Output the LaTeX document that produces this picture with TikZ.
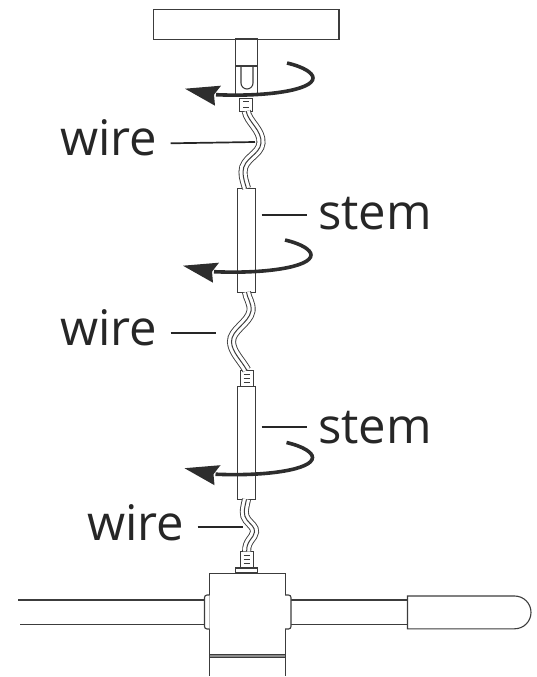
\documentclass[tikz,border=0pt]{standalone}
\usepackage{fontspec}
\setmainfont{Open Sans}
\usetikzlibrary{calc}
\definecolor{linegray}{RGB}{60,60,60}
\definecolor{arrowgray}{RGB}{45,45,45}
\begin{document}
\begin{tikzpicture}[
  x=1pt,y=-1pt,
  part/.style={draw=linegray,line width=1.1pt,fill=white,inner sep=0pt,outer sep=0pt},
  stembox/.style={part,minimum width=17.6pt,minimum height=#1},
  conbox/.style={part,line width=.9pt,fill=white,minimum width=13.2pt,minimum height=#1},
  tag/.style={font=\fontsize{49}{49}\selectfont,text=black!85,anchor=base west,inner sep=0pt},
  leader/.style={draw=black!85,line width=1.7pt},
  pipe/.style={draw=linegray,line width=1.1pt},
  bigarrow/.style={draw=arrowgray,line width=3.6pt},
]
\useasboundingbox (0,0) rectangle (537,677);

% ceiling plate and socket
\node[part,minimum width=185.5pt,minimum height=30pt] (plate) at (246.2,24.2) {};
\node[part,minimum width=21.6pt,minimum height=56pt] (socket) at (246.5,67) {};
\draw[pipe] (socket.west |- 0,66) -- (socket.east |- 0,66);
\draw[pipe] (241,66) -- (241,83) arc (180:0:6 and 6) -- (253,66);

% stems and connectors
\node[conbox=12.4pt] (conA) at (246.2,105) {};
\node[stembox=103.8pt] (stemA) at (246.5,240.2) {};
\node[conbox=16.6pt] (conB) at (246.7,378.3) {};
\node[stembox=112.6pt] (stemB) at (246.5,443) {};
\node[conbox=16.6pt] (conC) at (246.7,559.8) {};
\node[part,minimum width=22.4pt,minimum height=4.4pt] (flange) at (246.5,570.2) {};

% ticks on the connectors
\foreach \con/\top/\mid/\low in {conA/-3.5/2.5/2.5,conB/-4/0/4,conC/-4/0/4}{
  \draw[linegray,line width=1pt] ($(\con.center)+(-3,\top)$) -- ++(6,0);
  \draw[linegray,line width=1pt] ($(\con.center)+(-3,\mid)$) -- ++(6,0);
  \draw[linegray,line width=1pt] ($(\con.center)+(-3,\low)$) -- ++(6,0);
}

% wires
\foreach \w/\c in {9/linegray,7.2/white,1/linegray}{
  \draw[\c,line width=\w pt] (conA.south) .. controls (248,122) and (262,130) .. (261,143)
    .. controls (260,155) and (243,158) .. (243,172) .. controls (243,178) and (245,183) .. (stemA.north);
  \draw[\c,line width=\w pt] (stemA.south) .. controls (247,298) and (252,303) .. (251,311)
    .. controls (249,323) and (231,330) .. (231.5,342) .. controls (232,352) and (241,360) .. (conB.north);
  \draw[\c,line width=\w pt] (stemB.south) .. controls (244,510) and (243,515) .. (247,520)
    .. controls (251,525) and (255,527) .. (254.5,532) .. controls (254,538) and (246,541) .. (conC.north);
}

% housing with the two arms
\node[part,minimum width=75.6pt,minimum height=81.2pt] (housing) at (247.3,613.9) {};
\draw[pipe,line width=.8pt,fill=black!45] (housing.south west) rectangle ($(housing.south east)+(0,2.5)$);
\draw[pipe] ($(housing.south west)+(0,2.5)$) -- (housing.south west |- 0,676);
\draw[pipe] ($(housing.south east)+(0,2.5)$) -- (housing.south east |- 0,676);
\draw[pipe] (18,600) -- (204.5,600);
\draw[pipe] (20,624.7) -- (204.5,624.7);
\draw[pipe] (291,600) -- (407.5,600);
\draw[pipe] (291,624.7) -- (407.5,624.7);
\draw[part,rounded corners=2.5pt] (209.5,595) -- (204.5,595) -- (204.5,629) -- (209.5,629);
\draw[part,rounded corners=2.5pt] (285.1,595) -- (291,595) -- (291,629) -- (285.1,629);
\draw[part] (407.5,596) -- (514.6,596) arc (90:-90:16.4 and -16.4) -- (407.5,628.8) -- cycle;

% rotation arrows
\foreach \dx/\dy in {2/-177,0/0,1.5/202.5}{
  \begin{scope}[shift={(\dx,\dy)}]
    \draw[bigarrow] (285,240) .. controls (302,244) and (311,250) .. (311,255)
      .. controls (311,267) and (265,274) .. (214,271.7);
    \fill[arrowgray] (183,265.7) -- (219,262.7) -- (212,271.7) -- (213,282.7) -- cycle;
  \end{scope}
}

% labels
\node[tag] (wireA) at (60,155) {wire};
\node[tag] (wireB) at (60,345) {wire};
\node[tag] (wireC) at (87,540) {wire};
\node[tag] (stemtagA) at (318,229) {stem};
\node[tag] (stemtagB) at (318,443) {stem};

\coordinate (wireAend) at (255,142);
\coordinate (wireBend) at (215.7,333);
\coordinate (wireCend) at (242.7,526.7);
\coordinate (stemAend) at (261.7,215);
\coordinate (stemBend) at (261.7,427.3);
\draw[leader] (170.7,143.3) -- (wireAend);
\draw[leader] (170.7,333) -- (wireBend);
\draw[leader] (197.7,526.7) -- (wireCend);
\draw[leader] (stemAend) -- (306.7,215);
\draw[leader] (stemBend) -- (306.7,427.3);
\end{tikzpicture}
\end{document}
